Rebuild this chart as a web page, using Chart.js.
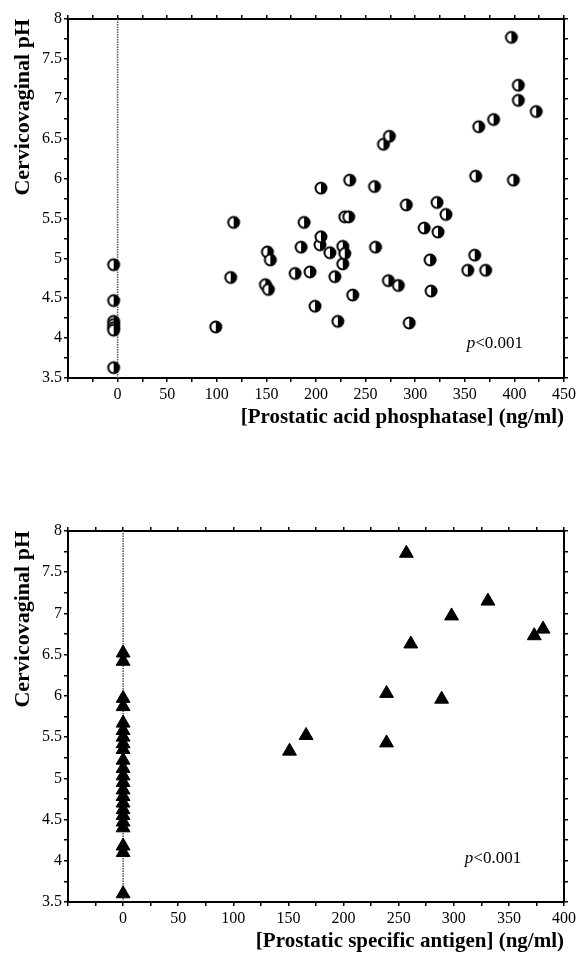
<!DOCTYPE html>
<html>
<head>
<meta charset="utf-8">
<script src="https://cdn.jsdelivr.net/npm/chart.js@4/dist/chart.umd.min.js"></script>
<style>
  html, body { margin: 0; padding: 0; background: #fff; }
  body { width: 579px; height: 954px; position: relative; overflow: hidden; }
  canvas { position: absolute; left: 0; }
  #papChart { top: 0; }
  #psaChart { top: 480px; }
</style>
</head>
<body>
<canvas id="papChart" width="579" height="430"></canvas>
<canvas id="psaChart" width="579" height="474"></canvas>
<script>
/* ---- data ---- */

/* top panel: prostatic acid phosphatase (ng/ml) vs cervicovaginal pH */
var papX = [-4, -4, -4, -4, -4, -4, -4,
  99, 114, 117, 149, 151, 152, 154, 179, 185, 188, 194, 199, 204, 205, 205,
  214, 219, 222, 227, 227, 229, 229, 233, 234, 237, 259, 260, 268, 273, 274,
  283, 291, 294, 309, 315, 316, 322, 323, 331, 353, 360, 361, 364, 371, 379,
  397, 399, 404, 404, 422];
var papY = [4.92, 4.47, 4.21, 4.17, 4.13, 4.10, 3.63,
  4.14, 4.76, 5.45, 4.67, 5.08, 4.61, 4.98, 4.81, 5.14, 5.45, 4.83, 4.40, 5.17, 5.27, 5.88,
  5.07, 4.77, 4.21, 5.15, 4.93, 5.06, 5.52, 5.52, 5.98, 4.54, 5.90, 5.14, 6.43, 4.72, 6.53,
  4.66, 5.67, 4.19, 5.38, 4.98, 4.59, 5.70, 5.33, 5.55, 4.85, 5.04, 6.03, 6.65, 4.85, 6.74,
  7.77, 5.98, 7.17, 6.98, 6.84];

/* bottom panel: prostatic specific antigen (ng/ml) vs cervicovaginal pH */
var psaX = [0, 0, 0, 0, 0, 0, 0, 0, 0, 0, 0, 0, 0, 0, 0, 0, 0, 0, 0, 0, 0, 0, 0,
  151, 166, 239, 239, 257, 261, 289, 298, 331, 373, 381];
var psaY = [6.52, 6.42, 5.97, 5.87, 5.67, 5.58, 5.50, 5.42, 5.35, 5.22, 5.12, 5.03,
  4.95, 4.86, 4.78, 4.70, 4.62, 4.55, 4.47, 4.40, 4.18, 4.10, 3.60,
  5.33, 5.52, 5.43, 6.03, 7.73, 6.63, 5.96, 6.97, 7.15, 6.73, 6.81];

var Y_MIN = 3.5, Y_MAX = 8, Y_STEP = 0.25;
var X_MIN = -50, X_STEP = 25;
var PAP_X_MAX = 450, PSA_X_MAX = 400;

var SERIF = '"Liberation Serif", "Times New Roman", serif';

function toPoints(xs, ys) {
  return xs.map(function (x, i) { return { x: x, y: ys[i] }; });
}

/* half-filled circle marker (right half black) */
function makeHalfDot(r) {
  var c = document.createElement('canvas');
  var s = 16;
  c.width = s; c.height = s;
  var g = c.getContext('2d');
  var m = s / 2;
  g.beginPath(); g.arc(m, m, r, 0, Math.PI * 2); g.fillStyle = '#fff'; g.fill();
  g.beginPath(); g.moveTo(m, m - r); g.arc(m, m, r, -Math.PI / 2, Math.PI / 2); g.closePath();
  g.fillStyle = '#000'; g.fill();
  g.beginPath(); g.arc(m, m, r, 0, Math.PI * 2);
  g.lineWidth = 2; g.strokeStyle = '#000'; g.stroke();
  return c;
}

/* "p<0.001" with italic p */
var pValuePlugin = {
  id: 'pValue',
  afterDatasetsDraw: function (chart, args, opts) {
    var ctx = chart.ctx;
    var x = chart.scales.x.getPixelForValue(opts.x);
    var y = chart.scales.y.getPixelForValue(opts.y);
    ctx.save();
    ctx.fillStyle = '#000';
    ctx.textBaseline = 'middle';
    ctx.textAlign = 'left';
    ctx.font = 'italic 17px ' + SERIF;
    ctx.fillText('p', x, y);
    var w = ctx.measureText('p').width;
    ctx.font = '17px ' + SERIF;
    ctx.fillText('<0.001', x + w, y);
    ctx.restore();
  }
};

function fixed(prop, size) {
  return function (scale) { scale[prop] = size; };
}

function xLabel(v) { return (v >= 0 && v % 50 === 0) ? String(v) : ''; }
function yLabel(v) { return Math.abs(v * 2 - Math.round(v * 2)) < 1e-6 ? String(v) : ''; }

function axisGrid() {
  return { display: true, drawOnChartArea: false, drawTicks: true, tickLength: 4, color: '#000', lineWidth: 1.5 };
}
function axisBorder() {
  return { display: true, color: '#000', width: 2 };
}

function buildOptions(xMax, title, sizes, pPos) {
  var xTicks = { stepSize: X_STEP, autoSkip: false, maxRotation: 0, maxTicksLimit: 100, padding: 3,
    color: '#000', font: { family: SERIF, size: 16 }, callback: xLabel };
  var yTicks = { stepSize: Y_STEP, autoSkip: false, maxTicksLimit: 100, padding: 2,
    color: '#000', font: { family: SERIF, size: 16 }, callback: yLabel };
  return {
    responsive: false,
    animation: false,
    layout: { padding: 0 },
    plugins: { legend: { display: false }, tooltip: { enabled: false }, pValue: pPos },
    scales: {
      x: {
        type: 'linear', position: 'bottom', min: X_MIN, max: xMax,
        ticks: xTicks, grid: axisGrid(), border: axisBorder(),
        title: { display: true, text: title, align: 'end', color: '#000', padding: { top: 0, bottom: 0 },
          font: { family: SERIF, size: 21, weight: 'bold' } },
        afterFit: fixed('height', sizes.bottom)
      },
      x2: {
        type: 'linear', position: 'top', min: X_MIN, max: xMax,
        ticks: { display: false, stepSize: X_STEP, autoSkip: false, maxTicksLimit: 100 },
        grid: axisGrid(), border: axisBorder(),
        afterFit: fixed('height', sizes.top)
      },
      y: {
        type: 'linear', position: 'left', min: Y_MIN, max: Y_MAX,
        ticks: yTicks, grid: axisGrid(), border: axisBorder(),
        title: { display: true, text: 'Cervicovaginal pH', align: 'end', color: '#000', padding: { top: 10, bottom: 0 },
          font: { family: SERIF, size: 22, weight: 'bold' } },
        afterFit: fixed('width', sizes.left)
      },
      y2: {
        type: 'linear', position: 'right', min: Y_MIN, max: Y_MAX,
        ticks: { display: false, stepSize: Y_STEP, autoSkip: false, maxTicksLimit: 100 },
        grid: axisGrid(), border: axisBorder(),
        afterFit: fixed('width', sizes.right)
      }
    }
  };
}

/* dotted vertical line at x = 0 */
function zeroLine() {
  return {
    type: 'line',
    data: [{ x: 0, y: Y_MIN }, { x: 0, y: Y_MAX }],
    borderColor: '#555', borderWidth: 1.5, borderDash: [1.5, 1],
    pointRadius: 0, fill: false, order: 2
  };
}

new Chart(document.getElementById('papChart'), {
  type: 'scatter',
  data: {
    datasets: [
      zeroLine(),
      {
        data: toPoints(papX, papY),
        pointStyle: makeHalfDot(5.5),
        pointRadius: 6,
        order: 1
      }
    ]
  },
  options: buildOptions(PAP_X_MAX, '[Prostatic acid phosphatase] (ng/ml)',
    { top: 19, bottom: 52, left: 68, right: 11 }, { x: 352, y: 3.93 }),
  plugins: [pValuePlugin]
});

new Chart(document.getElementById('psaChart'), {
  type: 'scatter',
  data: {
    datasets: [
      zeroLine(),
      {
        data: toPoints(psaX, psaY),
        pointStyle: 'triangle',
        pointRadius: 8,
        backgroundColor: '#000',
        borderColor: '#000',
        borderWidth: 1,
        order: 1
      }
    ]
  },
  options: buildOptions(PSA_X_MAX, '[Prostatic specific antigen] (ng/ml)',
    { top: 51, bottom: 52, left: 68, right: 9 }, { x: 310, y: 4.03 }),
  plugins: [pValuePlugin]
});
</script>
</body>
</html>
